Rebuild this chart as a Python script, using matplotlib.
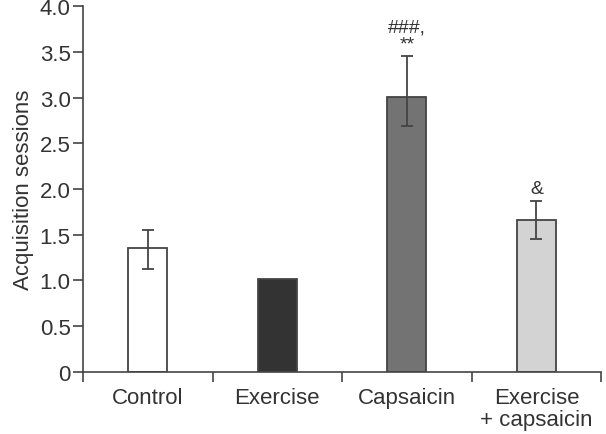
import matplotlib.pyplot as plt
import numpy as np

plt.rcParams["font.family"] = ["Liberation Sans", "DejaVu Sans"]

groups = ["Control", "Exercise", "Capsaicin", "Exercise\n+ capsaicin"]
means = [1.35, 1.02, 3.01, 1.66]
err_low = [0.22, 0.0, 0.32, 0.21]
err_high = [0.20, 0.0, 0.45, 0.21]
bar_colors = ["#ffffff", "#333333", "#737373", "#d3d3d3"]
marks = ["", "", "###,\n**", "&"]

text_color = "#333333"


def main():
    fig = plt.figure(figsize=(6.06, 4.35), dpi=100)
    ax = fig.add_axes([0.137, 0.143, 0.855, 0.84])

    x = np.arange(len(groups))
    has_err = [lo > 0 or hi > 0 for lo, hi in zip(err_low, err_high)]
    ax.bar(x, means, width=0.30, color=bar_colors, edgecolor="#444444",
           linewidth=1.3, zorder=2)
    xe = [xi for xi, h in zip(x, has_err) if h]
    ye = [m for m, h in zip(means, has_err) if h]
    lo = [e for e, h in zip(err_low, has_err) if h]
    hi = [e for e, h in zip(err_high, has_err) if h]
    ax.errorbar(xe, ye, yerr=[lo, hi], fmt="none", ecolor="#444444",
                elinewidth=1.3, capsize=4, capthick=1.3, zorder=3)

    for xi, m, h, s in zip(x, means, err_high, marks):
        if s:
            ax.text(xi, m + h + 0.04, s, ha="center", va="bottom",
                    fontsize=14, color=text_color, linespacing=0.95)

    ax.set_xlim(-0.5, 3.5)
    ax.set_ylim(0, 4.0)
    ax.set_yticks(np.arange(0, 4.01, 0.5))
    ax.set_yticklabels(["0"] + ["%.1f" % v for v in np.arange(0.5, 4.01, 0.5)])
    ax.set_xticks(x)
    ax.set_xticklabels(groups, va="top", linespacing=1.05)
    ax.set_xticks(np.arange(-0.5, 3.6, 1.0), minor=True)
    ax.tick_params(axis="x", which="major", length=0, pad=11,
                   labelsize=16, colors=text_color)
    ax.tick_params(axis="x", which="minor", length=7, width=1.2,
                   color="#444444")
    ax.tick_params(axis="y", length=7, width=1.2, color="#444444",
                   labelsize=16, labelcolor=text_color, pad=2)

    ax.spines["top"].set_visible(False)
    ax.spines["right"].set_visible(False)
    ax.spines["left"].set_color("#444444")
    ax.spines["bottom"].set_color("#444444")
    ax.spines["left"].set_linewidth(1.2)
    ax.spines["bottom"].set_linewidth(1.2)

    ax.set_ylabel("Acquisition sessions", fontsize=16, color=text_color,
                  labelpad=4)

    fig.savefig("out.png", dpi=100)


if __name__ == "__main__":
    main()
